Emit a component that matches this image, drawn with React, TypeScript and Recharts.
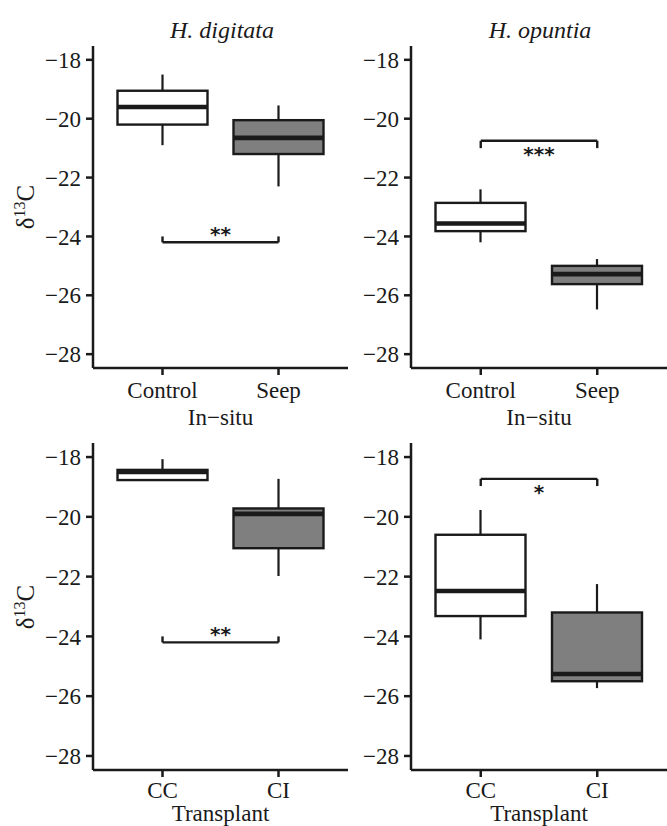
// Vier Boxplots (δ13C) in 2x2-Anordnung, mit Signifikanzklammern (recharts).

import { ComposedChart, Bar, XAxis, YAxis, ReferenceLine } from "recharts"

// Fünf-Werte-Zusammenfassung je Gruppe: [min, q1, median, q3, max]
const DIG_INSITU_CONTROL = [-20.9, -20.2, -19.6, -19.05, -18.5]
const DIG_INSITU_SEEP = [-22.3, -21.2, -20.65, -20.05, -19.55]
const OPU_INSITU_CONTROL = [-24.2, -23.82, -23.56, -22.86, -22.4]
const OPU_INSITU_SEEP = [-26.48, -25.62, -25.28, -25.0, -24.77]
const DIG_TRANS_CC = [-18.8, -18.77, -18.5, -18.43, -18.07]
const DIG_TRANS_CI = [-21.98, -21.05, -19.9, -19.72, -18.73]
const OPU_TRANS_CC = [-24.1, -23.32, -22.48, -20.6, -19.77]
const OPU_TRANS_CI = [-25.73, -25.5, -25.26, -23.2, -22.25]

const INSITU_GROUPS = ["Control", "Seep"]
const TRANS_GROUPS = ["CC", "CI"]
const Y_TICKS = [-28, -26, -24, -22, -20, -18]
const SPECIES = ["H. digitata", "H. opuntia"]

// Signifikanzklammern je Panel (oben links, oben rechts, unten links, unten rechts)
const BRACKET_Y = [-24.2, -20.75, -24.2, -18.73]
const BRACKET_TIP = [-24.0, -21.0, -24.0, -18.97]
const BRACKET_STARS = ["**", "***", "**", "*"]

const FILLS = ["#ffffff", "#7f7f7f"]
const INK = "#1a1a1a"
const SERIF = "'Liberation Serif', 'Times New Roman', serif"
const FS = 23

type Row = {
  group: string
  min: number
  q1: number
  median: number
  q3: number
  max: number
  range: [number, number]
  fill: string
}

function makeRows(groups: string[], stats: number[][]): Row[] {
  return groups.map((g, i) => {
    const [min, q1, median, q3, max] = stats[i]
    return { group: g, min, q1, median, q3, max, range: [min, max], fill: FILLS[i] }
  })
}

// Box aus dem Bereichsbalken [min, max]; Zwischenwerte linear auf dessen Pixelspanne
function BoxShape(props: any) {
  const { x, y, width, height, payload } = props
  const top = Math.min(y, y + height)
  const bot = Math.max(y, y + height)
  const span = payload.max - payload.min || 1
  const py = (v: number) => top + ((payload.max - v) / span) * (bot - top)
  const cx = x + width / 2
  return (
    <g>
      <line x1={cx} x2={cx} y1={py(payload.max)} y2={py(payload.q3)} stroke={INK} strokeWidth={2.2} />
      <line x1={cx} x2={cx} y1={py(payload.q1)} y2={py(payload.min)} stroke={INK} strokeWidth={2.2} />
      <rect
        x={x}
        y={py(payload.q3)}
        width={width}
        height={py(payload.q1) - py(payload.q3)}
        fill={payload.fill}
        stroke={INK}
        strokeWidth={2.4}
      />
      <line x1={x} x2={x + width} y1={py(payload.median)} y2={py(payload.median)} stroke={INK} strokeWidth={4.6} />
    </g>
  )
}

const fmtTick = (v: number) => (v < 0 ? "\u2212" + Math.abs(v) : String(v))

function Panel(props: {
  rows: Row[]
  groups: string[]
  idx: number
  xTitle: string
  left: number
  top: number
  width: number
  height: number
  margin: { top: number; right: number; bottom: number; left: number }
  xAxisHeight: number
  tickMargin: number
}) {
  const { rows, groups, idx, xTitle, left, top, width, height, margin, xAxisHeight, tickMargin } = props
  const by = BRACKET_Y[idx]
  const tip = BRACKET_TIP[idx]
  const above = tip > by
  const [g0, g1] = groups
  return (
    <div style={{ position: "absolute", left, top }}>
      <ComposedChart width={width} height={height} data={rows} margin={margin}>
        <XAxis
          dataKey="group"
          type="category"
          padding={{ left: 11.5, right: 11.5 }}
          height={xAxisHeight}
          axisLine={{ stroke: INK, strokeWidth: 2.5 }}
          tickLine={{ stroke: INK, strokeWidth: 2.5 }}
          tickSize={7}
          tickMargin={tickMargin}
          tick={{ fontSize: FS, fontFamily: SERIF, fill: INK }}
          label={{
            value: xTitle,
            position: "insideBottom",
            offset: 5,
            fontSize: FS,
            fontFamily: SERIF,
            fill: INK,
          }}
        />
        <YAxis
          type="number"
          domain={[-28.47, -17.53]}
          allowDataOverflow
          ticks={Y_TICKS}
          width={60}
          axisLine={{ stroke: INK, strokeWidth: 2.5 }}
          tickLine={{ stroke: INK, strokeWidth: 2.5 }}
          tickSize={7}
          tickMargin={5}
          tickFormatter={fmtTick}
          tick={{ fontSize: FS, fontFamily: SERIF, fill: INK }}
        />
        <Bar dataKey="range" barSize={90} shape={BoxShape} isAnimationActive={false} />
        <ReferenceLine
          segment={[
            { x: g0, y: by },
            { x: g1, y: by },
          ]}
          stroke={INK}
          strokeWidth={2.4}
          label={{
            value: BRACKET_STARS[idx],
            position: above ? "top" : "bottom",
            offset: above ? 1 : 6,
            fontSize: 20,
            fontWeight: "bold",
            fontFamily: "'DejaVu Sans', sans-serif",
            fill: INK,
          }}
        />
        <ReferenceLine segment={[{ x: g0, y: by }, { x: g0, y: tip }]} stroke={INK} strokeWidth={2.4} />
        <ReferenceLine segment={[{ x: g1, y: by }, { x: g1, y: tip }]} stroke={INK} strokeWidth={2.4} />
      </ComposedChart>
    </div>
  )
}

function YTitle({ top }: { top: number }) {
  return (
    <div
      style={{
        position: "absolute",
        left: 25,
        top,
        transform: "translate(-50%, -50%) rotate(-90deg)",
        fontFamily: SERIF,
        fontSize: 25,
        color: INK,
        whiteSpace: "nowrap",
        lineHeight: 1,
      }}
    >
      δ<span style={{ fontSize: 16, position: "relative", top: -9 }}>13</span>C
    </div>
  )
}

function Title({ text, center }: { text: string; center: number }) {
  return (
    <div
      style={{
        position: "absolute",
        left: center,
        top: 30,
        transform: "translate(-50%, -50%)",
        fontFamily: SERIF,
        fontStyle: "italic",
        fontSize: 24,
        color: INK,
        whiteSpace: "nowrap",
        lineHeight: 1,
      }}
    >
      {text}
    </div>
  )
}

export default function App() {
  const rowsA = makeRows(INSITU_GROUPS, [DIG_INSITU_CONTROL, DIG_INSITU_SEEP])
  const rowsB = makeRows(INSITU_GROUPS, [OPU_INSITU_CONTROL, OPU_INSITU_SEEP])
  const rowsC = makeRows(TRANS_GROUPS, [DIG_TRANS_CC, DIG_TRANS_CI])
  const rowsD = makeRows(TRANS_GROUPS, [OPU_TRANS_CC, OPU_TRANS_CI])

  return (
    <div style={{ position: "absolute", left: 0, top: 0, width: 667, height: 826, background: "#fff" }}>
      <Title text={SPECIES[0]} center={222} />
      <Title text={SPECIES[1]} center={540} />
      <YTitle top={207} />
      <YTitle top={607} />
      <Panel
        rows={rowsA}
        groups={INSITU_GROUPS}
        idx={0}
        xTitle="In−situ"
        left={0}
        top={0}
        width={350}
        height={430}
        margin={{ top: 46, right: 2, bottom: 0, left: 33 }}
        xAxisHeight={62}
        tickMargin={7}
      />
      <Panel
        rows={rowsB}
        groups={INSITU_GROUPS}
        idx={1}
        xTitle="In−situ"
        left={350}
        top={0}
        width={317}
        height={430}
        margin={{ top: 46, right: 0, bottom: 0, left: 1 }}
        xAxisHeight={62}
        tickMargin={7}
      />
      <Panel
        rows={rowsC}
        groups={TRANS_GROUPS}
        idx={2}
        xTitle="Transplant"
        left={0}
        top={400}
        width={350}
        height={426}
        margin={{ top: 43, right: 2, bottom: 0, left: 33 }}
        xAxisHeight={56}
        tickMargin={5}
      />
      <Panel
        rows={rowsD}
        groups={TRANS_GROUPS}
        idx={3}
        xTitle="Transplant"
        left={350}
        top={400}
        width={317}
        height={426}
        margin={{ top: 43, right: 0, bottom: 0, left: 1 }}
        xAxisHeight={56}
        tickMargin={5}
      />
    </div>
  )
}
